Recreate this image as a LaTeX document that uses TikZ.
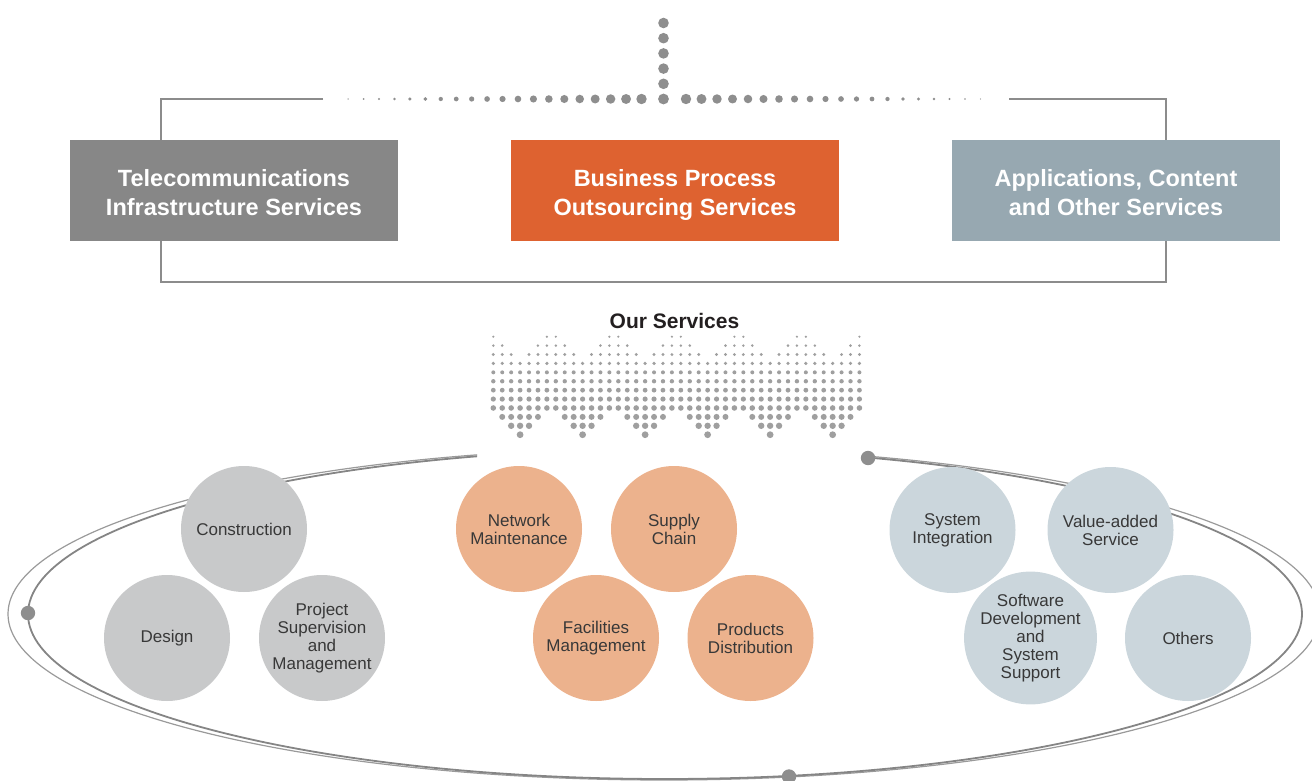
\documentclass[tikz,border=0pt]{standalone}
\usepackage{fontspec}
\setmainfont{Liberation Sans}
\definecolor{boxgray}{HTML}{878787}
\definecolor{boxorange}{HTML}{DE6230}
\definecolor{boxblue}{HTML}{97A8B1}
\definecolor{framegray}{HTML}{8C8C8C}
\definecolor{dotgray}{HTML}{8E8E8E}
\definecolor{griddot}{HTML}{9F9F9F}
\definecolor{circgray}{HTML}{C8C9CA}
\definecolor{circorange}{HTML}{ECB28D}
\definecolor{circblue}{HTML}{CBD6DC}
\definecolor{textdark}{HTML}{383838}
\definecolor{titledark}{HTML}{231F20}
\definecolor{ringinner}{HTML}{858585}
\definecolor{ringouter}{HTML}{9A9A9A}
\begin{document}
\begin{tikzpicture}[x=1pt,y=-1pt,
  topbox/.style={rectangle, minimum width=328pt, minimum height=101pt, inner sep=0pt},
  boxtext/.style={inner sep=0pt, text=white, align=center,
    font=\bfseries\fontsize{23.5}{29}\selectfont},
  svc/.style={circle, minimum size=126pt, inner sep=0pt, text=textdark, align=center,
    font=\fontsize{17}{18}\selectfont},
  ringdot/.style={fill=dotgray}]
\useasboundingbox (0,0) rectangle (1312,781);

% ---------- bracket frame behind the three segment boxes ----------
\coordinate (fl) at (323,99);
\coordinate (ftl) at (161,99);
\coordinate (fbl) at (161,282);
\coordinate (fbr) at (1166,282);
\coordinate (ftr) at (1166,99);
\coordinate (fr) at (1009,99);
\draw[framegray, line width=2pt] (fl) -- (ftl) -- (fbl) -- (fbr) -- (ftr) -- (fr);

% ---------- fading dot line with vertical stem ----------
\foreach \k in {1,...,5}
  \fill[dotgray] (663.5,{99-15.2*\k}) circle[radius=5.3pt];
\fill[dotgray] (663.5,99) circle[radius=5.4pt];
\foreach \i in {1,...,20}{
  \pgfmathsetmacro\rr{(10.4-(\i-1)*0.47)/2}
  \fill[dotgray] ({641.5-(\i-1)*15.44},99) circle[radius=\rr pt];
  \fill[dotgray] ({686+(\i-1)*15.5},99) circle[radius=\rr pt];
}

% ---------- segment boxes ----------
\node[topbox, fill=boxgray]   (tis) at (234,190.5) {};
\node[topbox, fill=boxorange] (bpo) at (675,190.5) {};
\node[topbox, fill=boxblue]   (aco) at (1116,190.5) {};
\node[boxtext] (tistxt) at ([yshift=-4.5pt]tis.center) {Telecommunications\strut\\Infrastructure Services\strut};
\node[boxtext] (bpotxt) at ([yshift=-4.5pt]bpo.center) {Business Process\strut\\Outsourcing Services\strut};
\node[boxtext] (acotxt) at ([yshift=-4.5pt]aco.center) {Applications, Content\strut\\and Other Services\strut};

% ---------- title ----------
\node[text=titledark, font=\bfseries\fontsize{21}{24}\selectfont] (title) at (674.5,321) {Our Services};

% ---------- dot field shaped into six downward arrows ----------
\foreach \c in {0,...,41}{
  \foreach \r in {0,...,11}{
    \pgfmathtruncatemacro\m{mod(\c,7)}
    \pgfmathtruncatemacro\d{abs(\m-3)}
    \pgfmathtruncatemacro\show{(\r<9)*((\d+\r)>2) + (\r>8)*((\d+\r)<12)}
    \ifnum\show>0
      \pgfmathsetmacro\gr{(2.4+0.4*\r)/2}
      \fill[griddot] ({493.3+8.93*\c},{336.7+8.91*\r}) circle[radius=\gr pt];
    \fi
  }
}

% ---------- orbit rings, open at the top ----------
\begin{scope}
  \clip (-20,-20) -- (1340,-20) -- (1340,800) -- (-20,800) -- cycle
        (477,425) -- (477,472) -- (868,472) -- (868,425) -- cycle;
  \draw[ringouter, line width=1.2pt] (664,614) ellipse [x radius=656pt, y radius=166pt];
  \draw[ringinner, line width=1.8pt] (665,614) ellipse [x radius=637pt, y radius=165pt];
\end{scope}
\fill[ringdot] (28,613) circle[radius=7.2pt];
\fill[ringdot] (789,776.5) circle[radius=7.2pt];
\fill[ringdot] (868,458) circle[radius=7.2pt];

% ---------- service circles ----------
\node[svc, fill=circgray] (cons) at (244,529) {Construction};
\node[svc, fill=circgray] (desg) at (167,638) {Design};
\node[svc, fill=circgray] (proj) at (322,638) {Project\\Supervision\\and\\Management};

\node[svc, fill=circorange] (netm) at (519,529) {Network\\Maintenance};
\node[svc, fill=circorange] (supc) at (674,529) {Supply\\Chain};
\node[svc, fill=circorange] (facm) at (596,638) {Facilities\\Management};
\node[svc, fill=circorange] (prod) at (750.5,638) {Products\\Distribution};

\node[svc, fill=circblue] (sysi) at (952.5,530) {System\\Integration};
\node[svc, fill=circblue] (vadd) at (1110.5,530) {Value-added\\Service};
\node[svc, fill=circblue] (soft) at (1030.5,638) {Software\\Development\\and\\System\\Support};
\node[svc, fill=circblue] (othr) at (1188,638) {Others};
\end{tikzpicture}
\end{document}
